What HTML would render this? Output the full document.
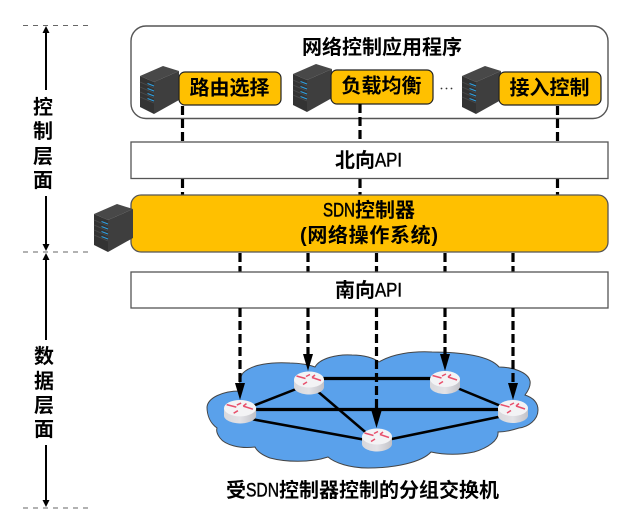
<!DOCTYPE html>
<html><head><meta charset="utf-8"><style>
html,body{margin:0;padding:0;background:#fff}
svg{display:block}
text{font-family:"Liberation Sans","Noto Sans CJK SC",sans-serif;font-weight:700;fill:#000;text-anchor:middle;dominant-baseline:central}
text.l{text-anchor:start}
text.n{text-anchor:start;font-weight:400;stroke:#000;stroke-width:.45}
</style></head><body>
<svg width="623" height="515" viewBox="0 0 623 515" xmlns="http://www.w3.org/2000/svg">
<defs>
<linearGradient id="rg" x1="0" x2="1" y1="0" y2="0"><stop offset="0" stop-color="#d8d8dc"/><stop offset=".5" stop-color="#e2e2e6"/><stop offset="1" stop-color="#c2c2c8"/></linearGradient>
<g id="srv">
<polygon points="140,76 163,66 179,71 154,82" fill="#484848"/>
<polygon points="140,76 154,82 154,114 140,107" fill="#333"/>
<polygon points="154,82 179,71 179,100 154,114" fill="#3e3e3e"/>
<g stroke="#4c4c4c" stroke-width=".7"><line x1="140" y1="82" x2="154" y2="88"/><line x1="140" y1="87" x2="154" y2="93"/><line x1="140" y1="92" x2="154" y2="98"/><line x1="140" y1="97" x2="154" y2="103"/></g>
<g stroke="#2f9fe0" stroke-width="1.200"><line x1="147.500" y1="83.500" x2="154" y2="86"/><line x1="147.500" y1="88.500" x2="154" y2="91"/><line x1="147.500" y1="93.500" x2="154" y2="96"/><line x1="147.500" y1="98.500" x2="154" y2="101"/></g>
</g>
<g id="rt">
<path d="M0,8 v7.500 C0,19.500 7,23 15,23 C23,23 30,19.500 30,15.500 V8 z" fill="url(#rg)"/>
<ellipse cx="15" cy="8" rx="15" ry="8" fill="#f3f3f5"/>
<g stroke="#e8506c" stroke-width="1.500" fill="none">
<line x1="2.500" y1="4.500" x2="11.500" y2="7"/><line x1="12" y1="5" x2="16" y2="3"/><line x1="18" y1="6" x2="27" y2="9"/><line x1="9" y1="13" x2="13" y2="10.500"/><line x1="18" y1="6" x2="21" y2="3.500"/>
</g>
</g>
</defs>

<g stroke="#666" stroke-width="1" stroke-dasharray="5 5" fill="none">
<line x1="23" y1="25.500" x2="88" y2="25.500"/>
<line x1="23" y1="252" x2="88" y2="252"/>
<line x1="23" y1="508" x2="88" y2="508"/>
</g>
<g stroke="#000" stroke-width="2">
<line x1="46" y1="30" x2="46" y2="90"/>
<line x1="46" y1="196" x2="46" y2="247"/>
<line x1="46" y1="257" x2="46" y2="340"/>
<line x1="46" y1="445" x2="46" y2="503"/>
</g>
<g fill="#000">
<path d="M46,26 l-3.500,7 h7z"/><path d="M46,251 l-3.500,-7 h7z"/>
<path d="M46,253 l-3.500,7 h7z"/><path d="M46,507 l-3.500,-7 h7z"/>
</g>
<g font-size="20">
<text x="43" y="108">控</text><text x="43" y="132">制</text><text x="43" y="157">层</text><text x="43" y="181">面</text>
<text x="44" y="357">数</text><text x="44" y="382">据</text><text x="44" y="406">层</text><text x="44" y="430">面</text>
</g>

<rect x="131" y="26" width="477" height="92.500" rx="15" fill="#fff" stroke="#555" stroke-width="1.400"/>
<text x="382" y="48" font-size="20">网络控制应用程序</text>
<use href="#srv"/>
<use href="#srv" transform="translate(153,-2)"/>
<use href="#srv" transform="translate(322,0)"/>
<rect x="179" y="72" width="102" height="33" rx="6" fill="#ffc000" stroke="#222" stroke-width="1.200"/>
<rect x="331" y="70" width="102" height="34" rx="6" fill="#ffc000" stroke="#222" stroke-width="1.200"/>
<rect x="499" y="72" width="102" height="33" rx="6" fill="#ffc000" stroke="#222" stroke-width="1.200"/>
<text x="229.500" y="88.500" font-size="20">路由选择</text>
<text x="381.500" y="86.500" font-size="20">负载均衡</text>
<text x="549.500" y="88.500" font-size="20">接入控制</text>
<g fill="#333"><circle cx="441.500" cy="88.500" r=".9"/><circle cx="446.500" cy="88.500" r=".9"/><circle cx="451.500" cy="88.500" r=".9"/></g>

<g stroke="#000" stroke-width="3.200" stroke-dasharray="9 4" fill="none">
<line x1="182.500" y1="106" x2="182.500" y2="142"/><line x1="360" y1="104" x2="360" y2="142"/><line x1="557.500" y1="106" x2="557.500" y2="142"/>
<line x1="182.500" y1="179" x2="182.500" y2="195"/><line x1="360" y1="179" x2="360" y2="195"/><line x1="557.500" y1="179" x2="557.500" y2="195"/>
</g>

<rect x="131" y="142" width="477" height="36.500" fill="#fff" stroke="#555" stroke-width="1.300"/>
<text class="l" x="335" y="161" font-size="20">北向</text>
<text class="n" x="375" y="161" font-size="19" textLength="27" lengthAdjust="spacingAndGlyphs">API</text>

<rect x="131" y="195" width="477" height="57" rx="10" fill="#ffc000" stroke="#555" stroke-width="1.300"/>
<text class="n" x="323" y="211" font-size="19" textLength="32" lengthAdjust="spacingAndGlyphs">SDN</text>
<text class="l" x="355" y="211" font-size="20">控制器</text>
<text class="l" x="300" y="236" font-size="20" textLength="138" lengthAdjust="spacing">(网络操作系统)</text>
<use href="#srv" transform="translate(-46,138)"/>

<g stroke="#000" stroke-width="3.200" stroke-dasharray="9 4" fill="none">
<line x1="240" y1="253" x2="240" y2="272"/><line x1="308" y1="253" x2="308" y2="272"/><line x1="376.500" y1="253" x2="376.500" y2="272"/><line x1="445" y1="253" x2="445" y2="272"/><line x1="513" y1="253" x2="513" y2="272"/>
</g>
<rect x="131" y="272" width="477" height="36" fill="#fff" stroke="#555" stroke-width="1.300"/>
<text class="l" x="335" y="291" font-size="20">南向</text>
<text class="n" x="375" y="291" font-size="19" textLength="27" lengthAdjust="spacingAndGlyphs">API</text>

<path d="M243,373 C252,364 272,362 290,363 C300,363 310,365 315,367 C320,358 338,354 352,355 C364,355 374,358 379,362 C392,354 412,351 432,352 C462,352 490,356 499,367 C512,367 528,372 530,381 C531,386 528,391 525,395 C534,398 538,403 538,410 C538,420 528,427 519,428 C510,431 505,432 498,432 C499,440 488,448 474,452 C460,455 445,455 431,452 C422,462 396,468 368,468 C350,468 335,463 328,457 C310,463 285,462 270,458 C262,455 257,451 255,447 C240,449 225,445 220,438 C217,434 216,431 217,428 C210,423 207,415 207,407 C208,398 222,391 240,391 C239,383 240,377 243,373 Z" fill="#5aa1eb" stroke="#444" stroke-width="1"/>

<g stroke="#000" stroke-width="2.500" fill="none">
<line x1="240" y1="411" x2="309" y2="384"/>
<line x1="240" y1="417" x2="377" y2="442"/>
<line x1="309" y1="384" x2="377" y2="442"/>
<line x1="445" y1="383" x2="513" y2="411"/>
<line x1="377" y1="442" x2="513" y2="414"/>
</g>
<g stroke="#000" stroke-width="3.200" fill="none">
<line x1="240" y1="409.500" x2="513" y2="409.500"/>
<line x1="309" y1="378.500" x2="445" y2="378.500"/>
</g>

<g stroke="#000" stroke-width="3.200" fill="none" stroke-dasharray="9 4">
<line x1="240" y1="308" x2="240" y2="385"/>
<line x1="308" y1="308" x2="308" y2="357"/>
<line x1="376.500" y1="308" x2="376.500" y2="414"/>
<line x1="445" y1="308" x2="445" y2="357"/>
<line x1="513" y1="308" x2="513" y2="385"/>
</g>
<g fill="#000">
<path d="M235,383 h10 l-5,17z"/>
<path d="M303,354 h10 l-5,17z"/>
<path d="M371.500,411 h10 l-5,17z"/>
<path d="M440,354 h10 l-5,17z"/>
<path d="M508,383 h10 l-5,17z"/>
</g>

<use href="#rt" transform="translate(224,400) scale(1.070,1.020)"/>
<use href="#rt" transform="translate(294,371.500)"/>
<use href="#rt" transform="translate(430,371)"/>
<use href="#rt" transform="translate(498,400)"/>
<use href="#rt" transform="translate(362,428.500)"/>

<text class="l" x="226" y="491" font-size="20">受</text>
<text class="n" x="246" y="491" font-size="19" textLength="33" lengthAdjust="spacingAndGlyphs">SDN</text>
<text class="l" x="279" y="491" font-size="20">控制器控制的分组交换机</text>
</svg>
</body></html>
